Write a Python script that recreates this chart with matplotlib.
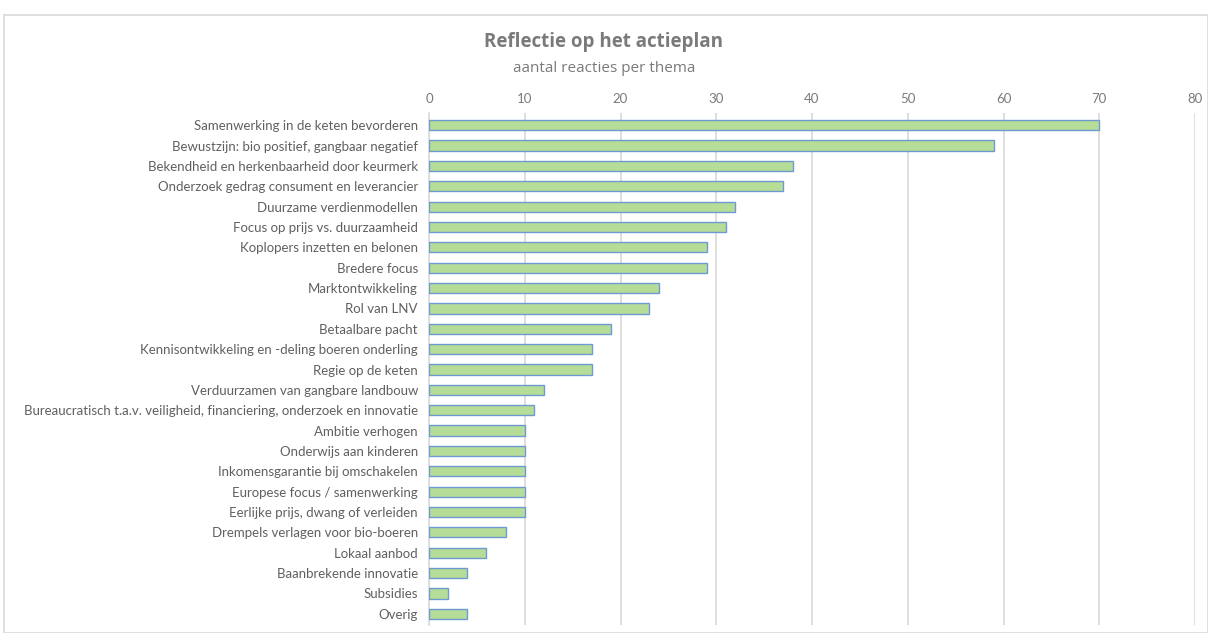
import matplotlib
matplotlib.use("Agg")
import matplotlib.pyplot as plt
from matplotlib.patches import Rectangle

themas = ["Samenwerking in de keten bevorderen",
          "Bewustzijn: bio positief, gangbaar negatief",
          "Bekendheid en herkenbaarheid door keurmerk",
          "Onderzoek gedrag consument en leverancier",
          "Duurzame verdienmodellen",
          "Focus op prijs vs. duurzaamheid",
          "Koplopers inzetten en belonen",
          "Bredere focus",
          "Marktontwikkeling",
          "Rol van LNV",
          "Betaalbare pacht",
          "Kennisontwikkeling en -deling boeren onderling",
          "Regie op de keten",
          "Verduurzamen van gangbare landbouw",
          "Bureaucratisch t.a.v. veiligheid, financiering, onderzoek en innovatie",
          "Ambitie verhogen",
          "Onderwijs aan kinderen",
          "Inkomensgarantie bij omschakelen",
          "Europese focus / samenwerking",
          "Eerlijke prijs, dwang of verleiden",
          "Drempels verlagen voor bio-boeren",
          "Lokaal aanbod",
          "Baanbrekende innovatie",
          "Subsidies",
          "Overig"]
reacties = [70, 59, 38, 37, 32, 31, 29, 29, 24, 23, 19, 17, 17, 12, 11,
            10, 10, 10, 10, 10, 8, 6, 4, 2, 4]
x_ticks = [0, 10, 20, 30, 40, 50, 60, 70, 80]

grijs = "#606060"
titel_grijs = "#7a7a7a"
plt.rcParams['font.family'] = ['Lato', 'DejaVu Sans']

fig = plt.figure(figsize=(12.08, 6.33), dpi=100)
ax = fig.add_axes([429/1208, 1 - 625/633, (1195 - 429)/1208, (625 - 113)/633])

ax.barh(range(len(themas)), reacties, height=0.5, color="#B5DD97",
        edgecolor="#6E9AD4", linewidth=1.0, zorder=3)

ax.set_xlim(0, 80)
ax.set_ylim(len(themas) - 0.45, -0.6)
ax.set_xticks(x_ticks)
ax.xaxis.tick_top()
ax.tick_params(axis='x', length=0, labelsize=9.5, colors=titel_grijs, pad=6)
ax.tick_params(axis='y', length=0, labelsize=9.5, colors=grijs, pad=8)
ax.set_yticks(range(len(themas)))
ax.set_yticklabels(themas)
ax.grid(axis='x', color="#D9D9D9", linewidth=1.2, zorder=0)
for s in ["top", "right", "bottom"]:
    ax.spines[s].set_visible(False)
ax.spines["left"].set_color("#D9D9D9")
ax.spines["left"].set_linewidth(1.2)

fig.text(0.5, 1 - 42/633, "Reflectie op het actieplan", ha='center', va='center',
         fontsize=13.5, fontweight='bold', color=titel_grijs, family='Open Sans')
fig.text(0.5, 1 - 68/633, "aantal reacties per thema", ha='center', va='center',
         fontsize=11, color=titel_grijs, family='Open Sans')

fig.patches.append(Rectangle((4/1208, 0), 1 - 4/1208, 1 - 15/633, transform=fig.transFigure,
                             fill=False, edgecolor="#D9D9D9", linewidth=1.2))

fig.savefig("out.png", dpi=100)
